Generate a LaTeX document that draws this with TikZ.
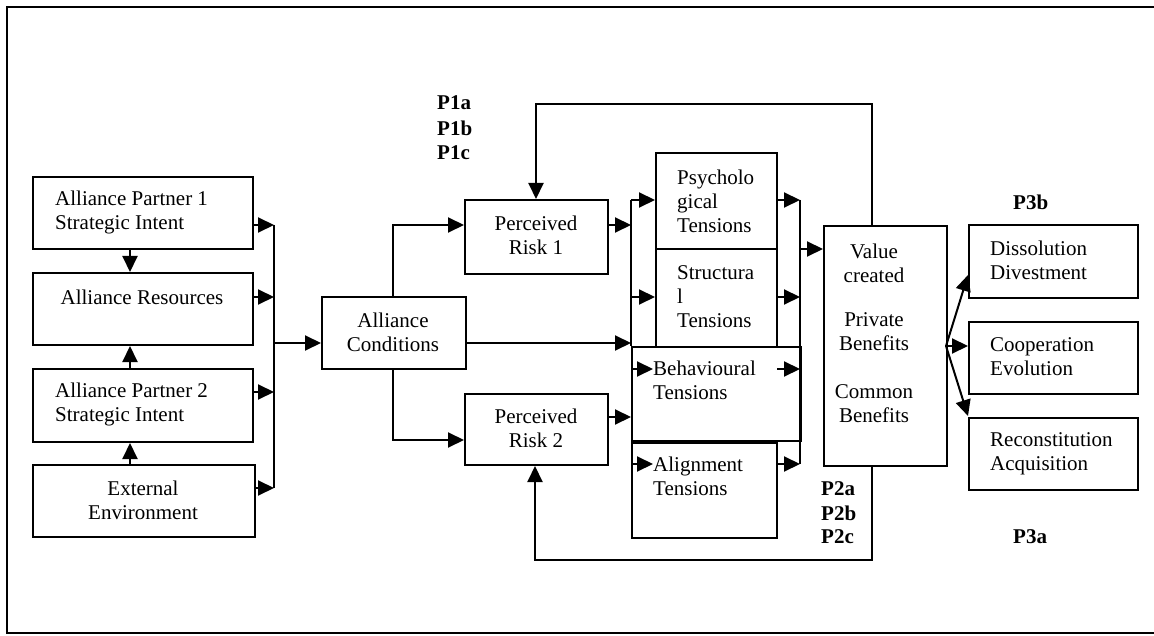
\documentclass[tikz,border=0pt]{standalone}
\usepackage{fontspec}
\setmainfont{Liberation Serif}
\usetikzlibrary{arrows.meta}
\begin{document}
\begin{tikzpicture}[x=1pt,y=-1pt,
  box/.style={draw, line width=2pt, rectangle, inner sep=0pt, anchor=north west},
  txt/.style={inner sep=0pt, font=\fontsize{21}{24}\selectfont, align=left, anchor=west},
  ctxt/.style={inner sep=0pt, font=\fontsize{21}{24}\selectfont, align=center},
  plab/.style={inner sep=0pt, font=\fontsize{21}{24}\selectfont\bfseries, anchor=west},
  line/.style={line width=2pt},
  arr/.style={line width=2pt, -{Triangle[length=16pt,width=15pt]}}]
\useasboundingbox (0,0) rectangle (1154,636);

% outer frame
\draw[line width=2.5pt] (1154,7) -- (7,7) -- (7,633) -- (1154,633);

% boxes
\node[box, minimum width=220pt, minimum height=72pt] (ap1) at (32,176) {};
\node[box, minimum width=220pt, minimum height=72pt] (ar)  at (32,272) {};
\node[box, minimum width=220pt, minimum height=73pt] (ap2) at (32,368) {};
\node[box, minimum width=222pt, minimum height=72pt] (ee)  at (32,464) {};
\node[box, minimum width=144pt, minimum height=72pt] (ac)  at (321,296) {};
\node[box, minimum width=143pt, minimum height=74pt] (pr1) at (464,199) {};
\node[box, minimum width=143pt, minimum height=71pt] (pr2) at (464,393) {};
\node[box, minimum width=121pt, minimum height=96pt] (psy) at (655,152) {};
\node[box, minimum width=121pt, minimum height=98pt] (str) at (655,248) {};
\node[box, minimum width=169pt, minimum height=94pt] (beh) at (631,346) {};
\node[box, minimum width=145pt, minimum height=95pt] (ali) at (631,442) {};
\node[box, minimum width=123pt, minimum height=240pt] (vc) at (823,225) {};
\node[box, minimum width=169pt, minimum height=73pt] (dis) at (968,224) {};
\node[box, minimum width=169pt, minimum height=72pt] (coo) at (968,321) {};
\node[box, minimum width=169pt, minimum height=72pt] (rec) at (968,417) {};

% box texts
\node[txt] (tap1) at (55,212) {Alliance Partner 1\\Strategic Intent};
\node[ctxt] (tar) at (142,297) {Alliance Resources};
\node[txt] (tap2) at (55,404) {Alliance Partner 2\\Strategic Intent};
\node[ctxt] (tee) at (143,500) {External\\Environment};
\node[ctxt] (tac) at (393,332) {Alliance\\Conditions};
\node[ctxt] (tpr1) at (536,235) {Perceived\\Risk 1};
\node[ctxt] (tpr2) at (536,428) {Perceived\\Risk 2};
\node[txt] (tpsy) at (677,201) {Psycholo\\gical\\Tensions};
\node[txt] (tstr) at (677,297) {Structura\\l\\Tensions};
\node[txt] (tbeh) at (653,380) {Behavioural\\Tensions};
\node[txt] (tali) at (653,476) {Alignment\\Tensions};
\node[ctxt] (tvc1) at (874,263) {Value\\created};
\node[ctxt] (tvc2) at (874,332) {Private\\Benefits};
\node[ctxt] (tvc3) at (874,404) {Common\\Benefits};
\node[txt] (tdis) at (990,260) {Dissolution\\Divestment};
\node[txt] (tcoo) at (990,357) {Cooperation\\Evolution};
\node[txt] (trec) at (990,454) {Reconstitution\\Acquisition};

% proposition labels
\node[plab] (p1a) at (437,103) {P1a};
\node[plab] (p1b) at (437,128) {P1b};
\node[plab] (p1c) at (437,153) {P1c};
\node[plab] (p2a) at (821,489) {P2a};
\node[plab] (p2b) at (821,513) {P2b};
\node[plab] (p2c) at (821,537) {P2c};
\node[plab] (p3b) at (1013,202) {P3b};
\node[plab] (p3a) at (1013,537) {P3a};

% left column links
\draw[arr] (ap1.south -| 130,0) -- (ar.north -| 130,0);
\draw[arr] (ap2.north -| 130,0) -- (ar.south -| 130,0);
\draw[arr] (ee.north -| 130,0) -- (ap2.south -| 130,0);

% left bus into alliance conditions
\coordinate (bA1) at (274,225);
\coordinate (bA2) at (274,297);
\coordinate (bA3) at (274,392);
\coordinate (bA4) at (274,488);
\coordinate (bAC) at (274,343);
\draw[arr] (ap1.east |- bA1) -- (bA1);
\draw[arr] (ar.east |- bA2) -- (bA2);
\draw[arr] (ap2.east |- bA3) -- (bA3);
\draw[arr] (ee.east |- bA4) -- (bA4);
\draw[line] (bA1) -- (bA4);
\draw[arr] (bAC) -- (ac.west |- bAC);

% alliance conditions to perceived risks
\coordinate (r1) at (464,225);
\coordinate (r2) at (464,440);
\draw[arr] (ac.north -| 393,0) |- (r1);
\draw[arr] (ac.south -| 393,0) |- (r2);

% tension bus (left)
\coordinate (bB0) at (631,200);
\coordinate (bB1) at (631,225);
\coordinate (bB2) at (631,297);
\coordinate (bB3) at (631,343);
\coordinate (bB4) at (631,369);
\coordinate (bB5) at (631,417);
\coordinate (bB6) at (631,464);
\draw[line] (bB0) -- (beh.north west);
\draw[arr] (pr1.east |- bB1) -- (bB1);
\draw[arr] (ac.east |- bB3) -- (bB3);
\draw[arr] (pr2.east |- bB5) -- (bB5);
\draw[arr] (bB0) -- (psy.west |- bB0);
\draw[arr] (bB2) -- (str.west |- bB2);
\draw[arr] (bB4) -- (653,369);
\draw[arr] (bB6) -- (653,464);

% tension bus (right)
\coordinate (bC0) at (800,200);
\coordinate (bC1) at (800,297);
\coordinate (bC2) at (800,369);
\coordinate (bC3) at (800,464);
\coordinate (bCV) at (800,249);
\draw[line] (bC0) -- (bC3);
\draw[arr] (psy.east |- bC0) -- (bC0);
\draw[arr] (str.east |- bC1) -- (bC1);
\draw[arr] (777,369) -- (bC2);
\draw[arr] (ali.east |- bC3) -- (bC3);
\draw[arr] (bCV) -- (vc.west |- bCV);

% outcomes
\coordinate (vo) at (946,346);
\draw[arr] (vo) -- (968,275);
\draw[arr] (vo) -- (coo.west |- vo);
\draw[arr] (vo) -- (968,416);

% feedback loops
\draw[arr] (vc.north -| 872,0) -- (872,104) -| (pr1.north -| 536,0);
\draw[arr] (vc.south -| 872,0) -- (872,560) -| (pr2.south -| 535,0);
\end{tikzpicture}
\end{document}
